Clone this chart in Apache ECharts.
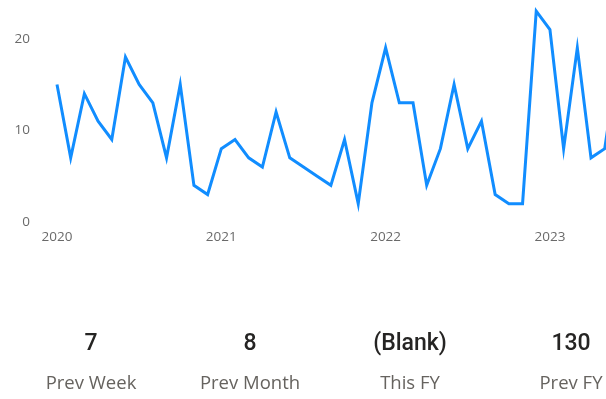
<!DOCTYPE html>
<html>
<head>
<meta charset="utf-8">
<script src="https://cdn.jsdelivr.net/npm/echarts@6/dist/echarts.min.js"></script>
<style>
  html, body { margin: 0; padding: 0; background: #fff; overflow: hidden; }
  /* the visual is wider than the window; its right side runs off-screen */
  #chart { width: 640px; height: 399px; }
</style>
</head>
<body>
<div id="chart"></div>
<script>
// Monthly counts, Jan 2020 – Jun 2023
const months = [
  '2020-01','2020-02','2020-03','2020-04','2020-05','2020-06','2020-07','2020-08','2020-09','2020-10','2020-11','2020-12',
  '2021-01','2021-02','2021-03','2021-04','2021-05','2021-06','2021-07','2021-08','2021-09','2021-10','2021-11','2021-12',
  '2022-01','2022-02','2022-03','2022-04','2022-05','2022-06','2022-07','2022-08','2022-09','2022-10','2022-11','2022-12',
  '2023-01','2023-02','2023-03','2023-04','2023-05','2023-06'
];
const counts = [
  15, 7, 14, 11, 9, 18, 15, 13, 7, 15, 4, 3,
  8, 9, 7, 6, 12, 7, 6, 5, 4, 9, 2, 13,
  19, 13, 13, 4, 8, 15, 8, 11, 3, 2, 2, 23,
  21, 8, 19, 7, 8, 18
];
const yTicks = [0, 10, 20];

// KPI cards under the chart
const cardValues = ['7', '8', '(Blank)', '130'];
const cardLabels = ['Prev Week', 'Prev Month', 'This FY', 'Prev FY'];

const chart = echarts.init(document.getElementById('chart'), null, { renderer: 'canvas' });

const cardCenters = [91, 250, 410, 571];
const graphics = [];
cardValues.forEach((v, i) => {
  graphics.push({
    type: 'text', x: cardCenters[i], y: 344,
    style: {
      text: v, fill: '#252423', font: '500 23px Roboto',
      textAlign: 'center', textVerticalAlign: 'middle'
    }
  });
  graphics.push({
    type: 'text', x: cardCenters[i], y: 384,
    style: {
      text: cardLabels[i], fill: '#66635f', font: '18.5px "Open Sans"',
      textAlign: 'center', textVerticalAlign: 'middle'
    }
  });
});

chart.setOption({
  animation: false,
  backgroundColor: '#ffffff',
  grid: { left: 57, top: 2, width: 561.4, height: 220, containLabel: false },
  xAxis: {
    type: 'category',
    data: months,
    boundaryGap: false,
    axisLine: { show: false },
    axisTick: { show: false },
    axisLabel: {
      interval: (idx) => idx % 12 === 0,
      formatter: (v) => v.slice(0, 4),
      color: '#6a6a6a',
      fontFamily: '"Open Sans"',
      fontSize: 13.5,
      margin: 8
    },
    splitLine: { show: false }
  },
  yAxis: {
    type: 'value',
    min: 0,
    max: 24,
    interval: 10,
    axisLine: { show: false },
    axisTick: { show: false },
    axisLabel: {
      showMaxLabel: false,
      color: '#6a6a6a',
      fontFamily: '"Open Sans"',
      fontSize: 13.5,
      margin: 27,
      formatter: (v) => yTicks.includes(v) ? String(v) : ''
    },
    splitLine: { show: false }
  },
  series: [{
    type: 'line',
    data: counts,
    symbol: 'none',
    lineStyle: { color: '#118DFF', width: 3, join: 'miter' },
    clip: true
  }],
  graphic: graphics
});
</script>
</body>
</html>
